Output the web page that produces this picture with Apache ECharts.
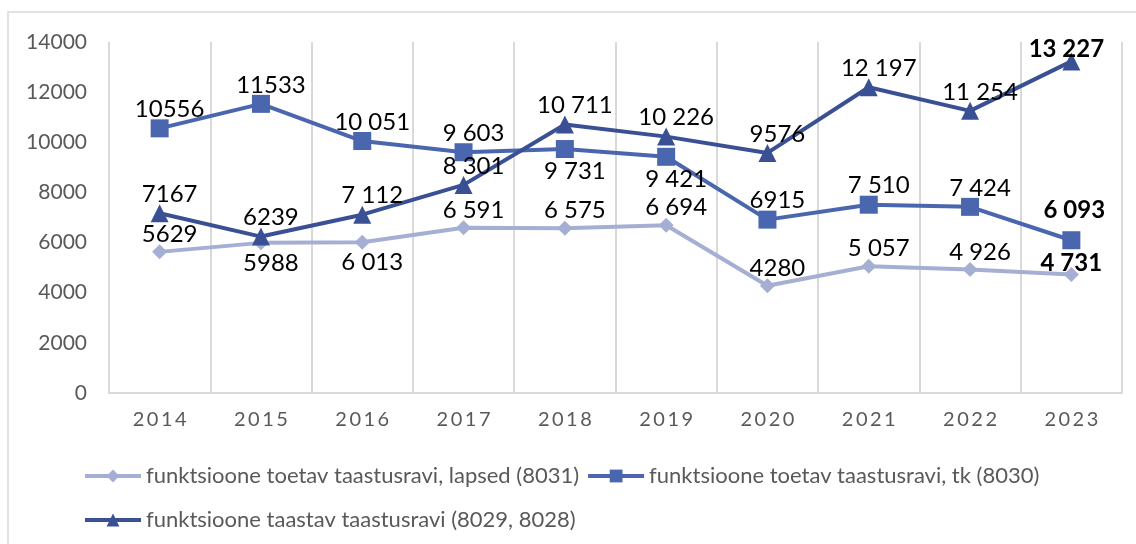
<!DOCTYPE html>
<html>
<head>
<meta charset="utf-8">
<script src="https://cdn.jsdelivr.net/npm/echarts@6/dist/echarts.min.js"></script>
<style>
  html, body { margin: 0; padding: 0; background: #fff; }
  #chart { width: 1136px; height: 544px; }
</style>
</head>
<body>
<div id="chart"></div>
<script>
// andmed
const years = ['2014', '2015', '2016', '2017', '2018', '2019', '2020', '2021', '2022', '2023'];
const yTicks = [0, 2000, 4000, 6000, 8000, 10000, 12000, 14000];

const seriesNames = [
    'funktsioone toetav taastusravi, lapsed (8031)',
    'funktsioone toetav taastusravi, tk (8030)',
    'funktsioone taastav taastusravi (8029, 8028)'
];

const lapsed = [5629, 5988, 6013, 6591, 6575, 6694, 4280, 5057, 4926, 4731];
const lapsedLabels = ['5629', '5988', '6 013', '6 591', '6 575', '6 694', '4280', '5 057', '4 926', '4 731'];

const tk = [10556, 11533, 10051, 9603, 9731, 9421, 6915, 7510, 7424, 6093];
const tkLabels = ['10556', '11533', '10 051', '9 603', '9 731', '9 421', '6915', '7 510', '7 424', '6 093'];

const taastav = [7167, 6239, 7112, 8301, 10711, 10226, 9576, 12197, 11254, 13227];
const taastavLabels = ['7167', '6239', '7 112', '8 301', '10 711', '10 226', '9576', '12 197', '11 254', '13 227'];

// millised sildid on punkti all
const lapsedBelow = [1, 2];
const tkBelow = [4, 5];

const font = 'Lato, "Noto Sans", sans-serif';
const colors = ['#A5AED3', '#4A66AF', '#3A5094'];

const chart = echarts.init(document.getElementById('chart'));

// teeb andmepunktid koos siltidega
function buildData(values, labels, below, lastOffset) {
    return values.map((v, i) => {
        const last = i === values.length - 1;
        return {
            value: v,
            label: {
                formatter: labels[i],
                position: below.includes(i) ? 'bottom' : 'top',
                offset: last ? lastOffset : [10, below.includes(i) ? 0 : 3],
                fontWeight: last ? 'bold' : 'normal'
            }
        };
    });
}

function lineSeries(idx, values, labels, below, symbol, size, lastOffset) {
    return {
        name: seriesNames[idx],
        type: 'line',
        data: buildData(values, labels, below, lastOffset),
        symbol: symbol,
        symbolSize: size,
        showAllSymbol: true,
        color: colors[idx],
        lineStyle: { width: 4, color: colors[idx] },
        itemStyle: { color: colors[idx] },
        label: {
            show: true,
            distance: 1,
            color: '#000',
            fontSize: 24,
            fontFamily: font
        },
        emphasis: { disabled: true },
        animation: false
    };
}

const legendText = { color: '#595959', fontSize: 22, fontFamily: font };

const option = {
    animation: false,
    graphic: [{
        type: 'rect',
        shape: { x: 8, y: 12, width: 1140, height: 540 },
        style: { fill: 'none', stroke: '#d9d9d9', lineWidth: 1.5 },
        silent: true
    }],
    grid: { left: 109, right: 14, top: 42, bottom: 151 },
    legend: [
        {
            data: [seriesNames[0], seriesNames[1]],
            left: 78, top: 460,
            itemWidth: 56, itemHeight: 16, itemGap: 7,
            lineStyle: { width: 4 },
            textStyle: legendText
        },
        {
            data: [seriesNames[2]],
            left: 78, top: 504,
            itemWidth: 56, itemHeight: 16,
            lineStyle: { width: 4 },
            textStyle: legendText
        }
    ],
    xAxis: {
        type: 'category',
        data: years,
        boundaryGap: true,
        axisLine: { lineStyle: { color: '#d9d9d9', width: 2 } },
        axisTick: { show: false },
        splitLine: { show: true, lineStyle: { color: '#d9d9d9', width: 2 } },
        axisLabel: {
            margin: 17,
            color: '#595959',
            fontSize: 20,
            fontFamily: font,
            formatter: v => v.split('').join('\u2009')
        }
    },
    yAxis: {
        type: 'value',
        min: yTicks[0],
        max: yTicks[yTicks.length - 1],
        interval: 2000,
        splitLine: { show: false },
        axisLine: { show: false },
        axisTick: { show: false },
        axisLabel: {
            margin: 22, color: '#595959', fontSize: 21, fontFamily: font,
            formatter: v => String(v)
        }
    },
    series: [
        lineSeries(0, lapsed, lapsedLabels, lapsedBelow, 'diamond', 15, [0, 9]),
        lineSeries(1, tk, tkLabels, tkBelow, 'rect', 18, [3, -8]),
        lineSeries(2, taastav, taastavLabels, [], 'triangle', 18, [-5, 10])
    ]
};

chart.setOption(option);
window.addEventListener('resize', () => chart.resize());
</script>
</body>
</html>
